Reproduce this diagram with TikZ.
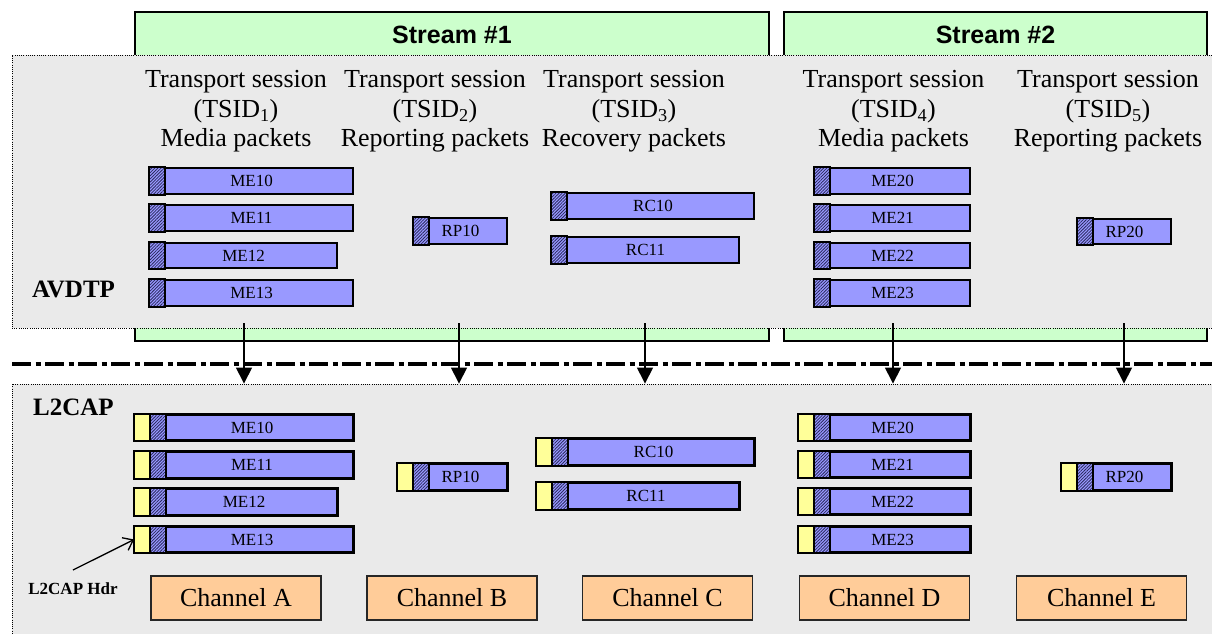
\documentclass[tikz,border=0pt]{standalone}
\usepackage{fontspec}
\setmainfont{Liberation Serif}
\newfontfamily\arialf{Liberation Sans}
\usetikzlibrary{fit,arrows.meta,patterns.meta}
\definecolor{grn}{HTML}{CCFFCC}
\definecolor{gry}{HTML}{EAEAEA}
\definecolor{pblue}{HTML}{9999FF}
\definecolor{hatchc}{HTML}{2A2A60}
\definecolor{hyel}{HTML}{FFFF99}
\definecolor{chor}{HTML}{FFCC99}
\tikzset{
  streambox/.style={draw=black,line width=1.6pt,fill=grn,inner sep=0pt,rectangle},
  layerbox/.style={draw=black,line width=0.9pt,dash pattern=on 1pt off 1.2pt,fill=gry,inner sep=0pt,rectangle},
  pkt/.style={draw=black,line width=1.8pt,fill=pblue,inner sep=0pt,rectangle},
  hatchpart/.style={preaction={fill=pblue},pattern={Lines[angle=45,distance=2.2pt,line width=0.8pt]},pattern color=hatchc},
  hdrpart/.style={fill=hyel},
  partline/.style={draw=black,line width=1.5pt},
  pktlabel/.style={font=\rmfamily\fontsize{17}{19}\selectfont,inner sep=0pt},
  head/.style={font=\fontsize{26}{29.5}\selectfont,align=center,inner sep=0pt},
  streamlabel/.style={font=\arialf\bfseries\fontsize{25}{28}\selectfont,inner sep=0pt},
  layerlabel/.style={font=\bfseries\fontsize{25}{28}\selectfont,inner sep=0pt},
  chan/.style={draw=black!85,line width=1.6pt,fill=chor,minimum width=170pt,minimum height=44pt,inner sep=0pt,font=\fontsize{26}{29}\selectfont},
  flow/.style={line width=1.5pt,-{Triangle[width=16pt,length=16pt]}},
  layersep/.style={line width=3.6pt,dash pattern=on 19pt off 4.5pt on 5pt off 4.5pt},
}
\newcommand\avpkt[6]{%
  \node[pkt,fit={(#2,#4)(#3,#5)}] (#1) {};
  \path[hatchpart] (#1.north west) rectangle ([xshift=16pt]#1.south west);
  \draw[partline] (#1.north west) rectangle ([xshift=16pt]#1.south west);
  \node[pktlabel] (#1t) at (#1.center) {#6};
}
\newcommand\lcpkt[6]{%
  \node[pkt,fit={(#2,#4)(#3,#5)}] (#1) {};
  \path[hdrpart] (#1.north west) rectangle ([xshift=16pt]#1.south west);
  \path[hatchpart] ([xshift=16pt]#1.north west) rectangle ([xshift=32pt]#1.south west);
  \draw[partline] (#1.north west) rectangle ([xshift=16pt]#1.south west);
  \draw[partline] ([xshift=16pt]#1.north west) rectangle ([xshift=32pt]#1.south west);
  \draw[line width=1.8pt] (#1.north west) rectangle (#1.south east);
  \node[pktlabel] (#1t) at ([xshift=8pt]#1.center) {#6};
}
\begin{document}
\begin{tikzpicture}[x=1pt,y=-1pt]
\useasboundingbox (0,0) rectangle (1212,634);
% stream boxes
\node[streambox,fit={(135,12)(769,341)}] (s1) {};
\node[streambox,fit={(784,12)(1207,341)}] (s2) {};
\node[streamlabel] (s1t) at (452,35) {Stream \#1};
\node[streamlabel] (s2t) at (995.5,35) {Stream \#2};
% layer boxes
\node[layerbox,fit={(12,55)(1216,328)}] (avbox) {};
\node[layerbox,fit={(12,384)(1216,640)}] (l2box) {};
\node[layerlabel] (avl) at (73.5,289) {AVDTP};
\node[layerlabel] (l2l) at (73.5,407) {L2CAP};
% separator
\coordinate (sepL) at (12,364);
\coordinate (sepR) at (1212,364);
\draw[layersep] (sepL) -- (sepR);
% headings
\node[head] (h1) at (236,111.5) {Transport session\\(TSID\textsubscript{1})\\Media packets};
\node[head] (h2) at (435,111.5) {Transport session\\(TSID\textsubscript{2})\\Reporting packets};
\node[head] (h3) at (634,111.5) {Transport session\\(TSID\textsubscript{3})\\Recovery packets};
\node[head] (h4) at (893.5,111.5) {Transport session\\(TSID\textsubscript{4})\\Media packets};
\node[head] (h5) at (1108,111.5) {Transport session\\(TSID\textsubscript{5})\\Reporting packets};
% AVDTP packets
\avpkt{a10}{150}{353}{168}{194}{ME10}
\avpkt{a11}{150}{353}{205}{231}{ME11}
\avpkt{a12}{150}{337}{243}{268}{ME12}
\avpkt{a13}{150}{353}{280}{306}{ME13}
\avpkt{arp1}{414}{507}{218}{244}{RP10}
\avpkt{arc0}{552}{754}{193}{219}{RC10}
\avpkt{arc1}{552}{739}{237}{263}{RC11}
\avpkt{a20}{815}{970}{168}{194}{ME20}
\avpkt{a21}{815}{970}{205}{231}{ME21}
\avpkt{a22}{815}{970}{243}{268}{ME22}
\avpkt{a23}{815}{970}{280}{306}{ME23}
\avpkt{arp2}{1078}{1171}{219}{244}{RP20}
% L2CAP packets
\lcpkt{l10}{135}{353}{415}{440}{ME10}
\lcpkt{l11}{135}{353}{452}{478}{ME11}
\lcpkt{l12}{135}{337}{489}{515}{ME12}
\lcpkt{l13}{135}{353}{527}{552}{ME13}
\lcpkt{lrp1}{398}{507}{464}{490}{RP10}
\lcpkt{lrc0}{537}{754}{439}{465}{RC10}
\lcpkt{lrc1}{537}{739}{483}{509}{RC11}
\lcpkt{l20}{799}{970}{415}{440}{ME20}
\lcpkt{l21}{799}{970}{452}{477}{ME21}
\lcpkt{l22}{799}{970}{489}{514}{ME22}
\lcpkt{l23}{799}{970}{527}{552}{ME23}
\lcpkt{lrp2}{1062}{1171}{464}{490}{RP20}
% channels
\node[chan] (chA) at (236,598) {Channel A};
\node[chan] (chB) at (452,598) {Channel B};
\node[chan] (chC) at (667.5,598) {Channel C};
\node[chan] (chD) at (884.5,598) {Channel D};
\node[chan] (chE) at (1101.5,598) {Channel E};
% L2CAP header label
\node[font=\bfseries\fontsize{17}{19}\selectfont,inner sep=0pt] (hdr) at (73,589) {L2CAP Hdr};
\coordinate (hdrtail) at (73,570);
\draw[line width=1.3pt,-{Straight Barb[length=9pt,width=14pt]}] (hdrtail) -- (l13.west);
% flow arrows
\coordinate (f1) at (244,323);
\coordinate (f2) at (459,323);
\coordinate (f3) at (645,323);
\coordinate (f4) at (893,323);
\coordinate (f5) at (1124,323);
\foreach \f in {f1,f2,f3,f4,f5}{\draw[flow] (\f) -- (\f |- l2box.north);}
\end{tikzpicture}
\end{document}
